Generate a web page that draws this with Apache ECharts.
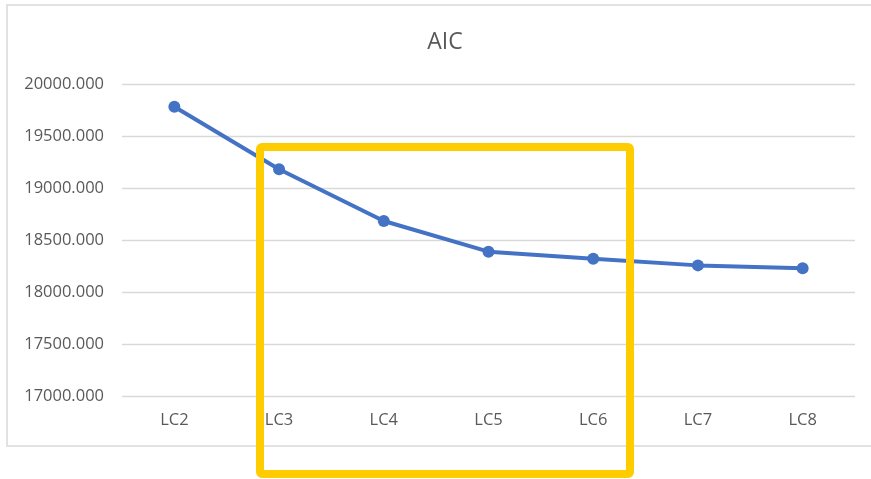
<!DOCTYPE html>
<html>
<head>
<meta charset="utf-8">
<script src="https://cdn.jsdelivr.net/npm/echarts@6/dist/echarts.min.js"></script>
<style>
  html, body { margin: 0; padding: 0; background: #fff; }
  #chart { width: 871px; height: 479px; }
</style>
</head>
<body>
<div id="chart"></div>
<script>
// AIC by number of latent classes
const categories = ['LC2', 'LC3', 'LC4', 'LC5', 'LC6', 'LC7', 'LC8'];
const aicValues = [19782, 19180, 18683, 18388, 18320, 18256, 18228];
const yTicks = { min: 17000, max: 20000, step: 500 };

const chart = echarts.init(document.getElementById('chart'), null, { renderer: 'canvas' });
const textColor = '#595959';
const fontFamily = '"Open Sans", "Noto Sans", sans-serif';

chart.setOption({
  animation: false,
  backgroundColor: '#ffffff',
  title: {
    text: 'AIC',
    left: 440,
    top: 26,
    textAlign: 'center',
    textStyle: { color: textColor, fontSize: 23, fontWeight: 'normal', fontFamily }
  },
  grid: { left: 122, right: 16, top: 84, bottom: 83, containLabel: false },
  xAxis: {
    type: 'category',
    data: categories,
    boundaryGap: true,
    axisLine: { show: false },
    axisTick: { show: false },
    axisLabel: { color: textColor, fontSize: 16.5, fontFamily, margin: 16 }
  },
  yAxis: {
    type: 'value',
    min: yTicks.min,
    max: yTicks.max,
    interval: yTicks.step,
    axisLine: { show: false },
    axisTick: { show: false },
    splitLine: { lineStyle: { color: '#d9d9d9', width: 1.3 } },
    axisLabel: {
      color: textColor, fontSize: 16.5, fontFamily, margin: 18,
      formatter: v => v.toFixed(3)
    }
  },
  series: [{
    type: 'line',
    data: aicValues,
    symbol: 'circle',
    symbolSize: 12,
    lineStyle: { color: '#4472C4', width: 4 },
    itemStyle: { color: '#4472C4' },
    z: 3
  }],
  graphic: [
    {
      type: 'rect',
      z: -10,
      silent: true,
      shape: { x: 7, y: 5, width: 880, height: 441 },
      style: { fill: 'none', stroke: '#d9d9d9', lineWidth: 1.5 }
    },
    {
      type: 'rect',
      z: 100,
      silent: true,
      shape: { x: 260, y: 147, width: 370, height: 327, r: 2 },
      style: { fill: 'none', stroke: '#FFCC00', lineWidth: 8 }
    }
  ]
});
</script>
</body>
</html>
